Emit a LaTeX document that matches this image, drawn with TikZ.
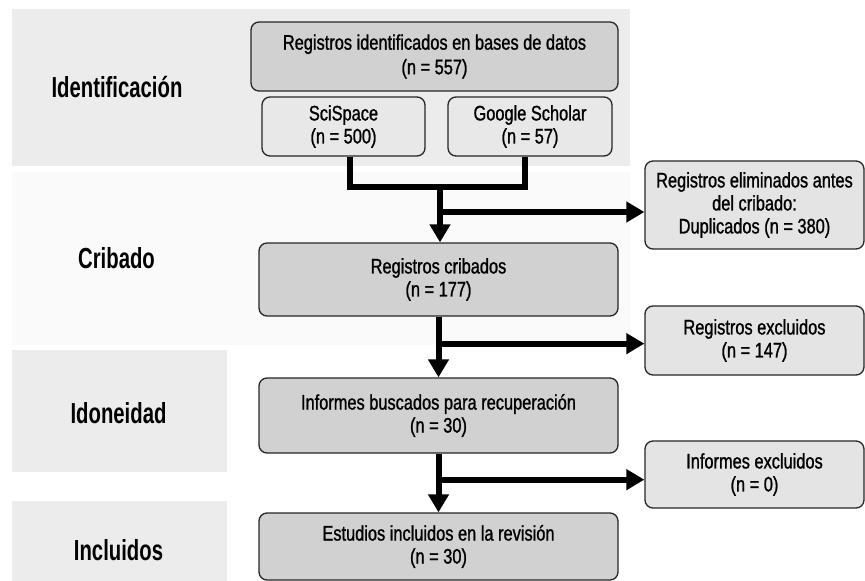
\documentclass[tikz,border=0pt]{standalone}
\usepackage{fontspec}
\setmainfont[FakeStretch=0.79]{Liberation Sans}
\newfontfamily\boxfont[FakeStretch=0.78,FakeBold=1.1]{Liberation Sans}
\newfontfamily\stagefont[FakeStretch=0.70]{Liberation Sans}
\usetikzlibrary{arrows.meta,calc}
\definecolor{panelgray}{HTML}{ECECEC}
\definecolor{faintgray}{HTML}{FAFAFA}
\definecolor{darkbox}{HTML}{D1D1D1}
\definecolor{lightbox}{HTML}{E4E4E4}
\definecolor{innerbox}{HTML}{E8E8E8}
\begin{document}
\begin{tikzpicture}[x=1pt,y=-1pt,
  box/.style={draw=black!85, line width=1.3pt, rounded corners=8pt, align=center,
    font=\boxfont\fontsize{21}{23}\selectfont, inner sep=0pt},
  mainbox/.style={box, fill=darkbox},
  sidebox/.style={box, fill=lightbox},
  stage/.style={font=\stagefont\bfseries\fontsize{29}{32}\selectfont, anchor=base},
  flow/.style={line width=6pt, line join=miter, -{Triangle[length=18pt,width=20pt]}},
  link/.style={line width=6pt, line join=miter}]
\useasboundingbox (0,0) rectangle (865,581);
% background panels
\fill[faintgray] (12,172) rectangle (630,345);
\fill[panelgray] (12,9) rectangle (630,166);
\fill[panelgray] (12,350) rectangle (227,472);
\fill[panelgray] (12,501) rectangle (227,581);
% stage labels
\node[stage] (sIdent) at (117,97) {Identificación};
\node[stage] (sCrib) at (116.5,268) {Cribado};
\node[stage] (sIdon) at (118.5,423) {Idoneidad};
\node[stage] (sIncl) at (118.5,560) {Incluidos};
% boxes
\node[mainbox, minimum width=367pt, minimum height=69pt] (db) at (434.5,56.5)
  {\raisebox{-3pt}{\shortstack{Registros identificados en bases de datos\\[2pt](n = 557)}}};
\node[sidebox, fill=innerbox, minimum width=163pt, minimum height=59pt] (sci) at (343.5,126.5)
  {SciSpace\\(n = 500)};
\node[sidebox, fill=innerbox, minimum width=164pt, minimum height=59pt] (gs) at (530,126.5)
  {Google Scholar\\(n = 57)};
\node[sidebox, minimum width=219pt, minimum height=88pt] (r1) at (754.5,205)
  {Registros eliminados antes\\del cribado:\\Duplicados (n = 380)};
\node[mainbox, minimum width=359pt, minimum height=73pt] (crib) at (438.5,279.5)
  {Registros cribados\\(n = 177)};
\node[sidebox, minimum width=219pt, minimum height=69pt] (r2) at (754.5,340.5)
  {Registros excluidos\\(n = 147)};
\node[mainbox, minimum width=359pt, minimum height=75pt] (inf) at (438.5,415.5)
  {Informes buscados para recuperación\\(n = 30)};
\node[sidebox, minimum width=219pt, minimum height=67pt] (r3) at (754.5,474.5)
  {Informes excluidos\\(n = 0)};
\node[mainbox, minimum width=359pt, minimum height=67pt] (est) at (438.5,546.5)
  {Estudios incluidos en la revisión\\(n = 30)};
% connectors
\coordinate (jA) at (440,187);
\draw[link] ($(sci.south)+(6,0)$) |- (jA) -| ($(gs.south)+(-5,0)$);
\draw[flow] (jA) -- (jA |- crib.north);
\coordinate (b1) at (440,212);
\draw[flow] (b1) -- (b1 -| r1.west);
\draw[flow] (crib.south) -- (inf.north);
\coordinate (b2) at ($(crib.south)+(0,27)$);
\draw[flow] (b2) -- (b2 -| r2.west);
\draw[flow] (inf.south) -- (est.north);
\coordinate (b3) at ($(inf.south)+(0,26)$);
\draw[flow] (b3) -- (b3 -| r3.west);
\end{tikzpicture}
\end{document}
